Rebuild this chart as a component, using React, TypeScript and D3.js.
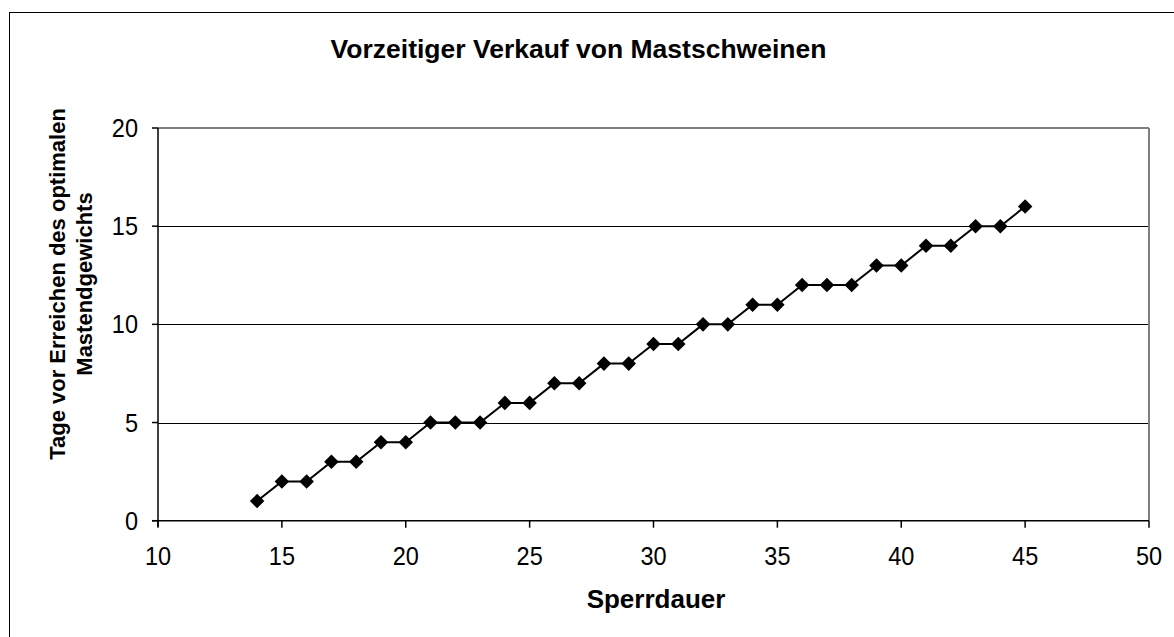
import React from "react";
import * as d3 from "d3";

const sperrdauer = [14,15,16,17,18,19,20,21,22,23,24,25,26,27,28,29,30,31,32,33,34,35,36,37,38,39,40,41,42,43,44,45];
const tageVorOptimum = [1,2,2,3,3,4,4,5,5,5,6,6,7,7,8,8,9,9,10,10,11,11,12,12,12,13,13,14,14,15,15,16];
const xTicks = [10,15,20,25,30,35,40,45,50];
const yTicks = [0,5,10,15,20];
const title = "Vorzeitiger Verkauf von Mastschweinen";
const xTitle = "Sperrdauer";
const yTitleLines = ["Tage vor Erreichen des optimalen", "Mastendgewichts"];

const W = 1174, H = 637;
const L = 158, R = 1149, T = 128, B = 520.7;
const FONT = "'Liberation Sans', Arial, sans-serif";

export default function App() {
  const x = d3.scaleLinear().domain([10, 50]).range([L, R]);
  const y = d3.scaleLinear().domain([0, 20]).range([B, T]);
  const pts = sperrdauer.map((d, i) => [x(d), y(tageVorOptimum[i])] as [number, number]);
  const line = d3.line()(pts) || "";
  const diamond = d3.symbol().type(d3.symbolDiamond2).size(135)() || "";
  const tick = (tx: number, ty: number) => `translate(${tx},${ty}) scale(0.94,1)`;
  return (
    <svg width={W} height={H} style={{ position: "absolute", left: 0, top: 0, background: "#fff" }} fontFamily={FONT}>
      <rect x={9.5} y={12.5} width={1200} height={700} fill="#fff" stroke="#000" strokeWidth={1} />
      {yTicks.filter(t => t > 0 && t < 20).map(t => (
        <line key={"g" + t} x1={L} x2={R} y1={Math.round(y(t)) + 0.5} y2={Math.round(y(t)) + 0.5} stroke="#000" strokeWidth={1} />
      ))}
      <line x1={L} x2={R} y1={T} y2={T} stroke="#808080" strokeWidth={2} />
      <line x1={R} x2={R} y1={T} y2={B} stroke="#808080" strokeWidth={2} />
      <line x1={L} x2={L} y1={T} y2={B + 6} stroke="#000" strokeWidth={1.5} />
      <line x1={L - 6} x2={R} y1={B} y2={B} stroke="#000" strokeWidth={1.5} />
      {yTicks.map(t => (
        <g key={"y" + t}>
          <line x1={L - 6} x2={L} y1={y(t)} y2={y(t)} stroke="#000" strokeWidth={1.5} />
          <text transform={tick(L - 20, y(t) + 9)} textAnchor="end" fontSize={25} fill="#000">{t}</text>
        </g>
      ))}
      {xTicks.map(t => (
        <g key={"x" + t}>
          <line x1={x(t)} x2={x(t)} y1={B} y2={B + 7} stroke="#000" strokeWidth={1.5} />
          <text transform={tick(x(t), 565)} textAnchor="middle" fontSize={25} fill="#000">{t}</text>
        </g>
      ))}
      <path d={line} fill="none" stroke="#000" strokeWidth={2} />
      {pts.map((p, i) => (
        <path key={i} d={diamond} transform={`translate(${p[0]},${p[1]})`} fill="#000" />
      ))}
      <text x={578.5} y={57.7} textAnchor="middle" fontSize={26.5} fontWeight="bold" fill="#000">{title}</text>
      <text x={656} y={607.5} textAnchor="middle" fontSize={26} fontWeight="bold" fill="#000">{xTitle}</text>
      {yTitleLines.map((s, i) => (
        <text key={i} transform={`translate(${65 + i * 27},284) rotate(-90)`} textAnchor="middle" fontSize={22} fontWeight="bold" fill="#000">{s}</text>
      ))}
    </svg>
  );
}
